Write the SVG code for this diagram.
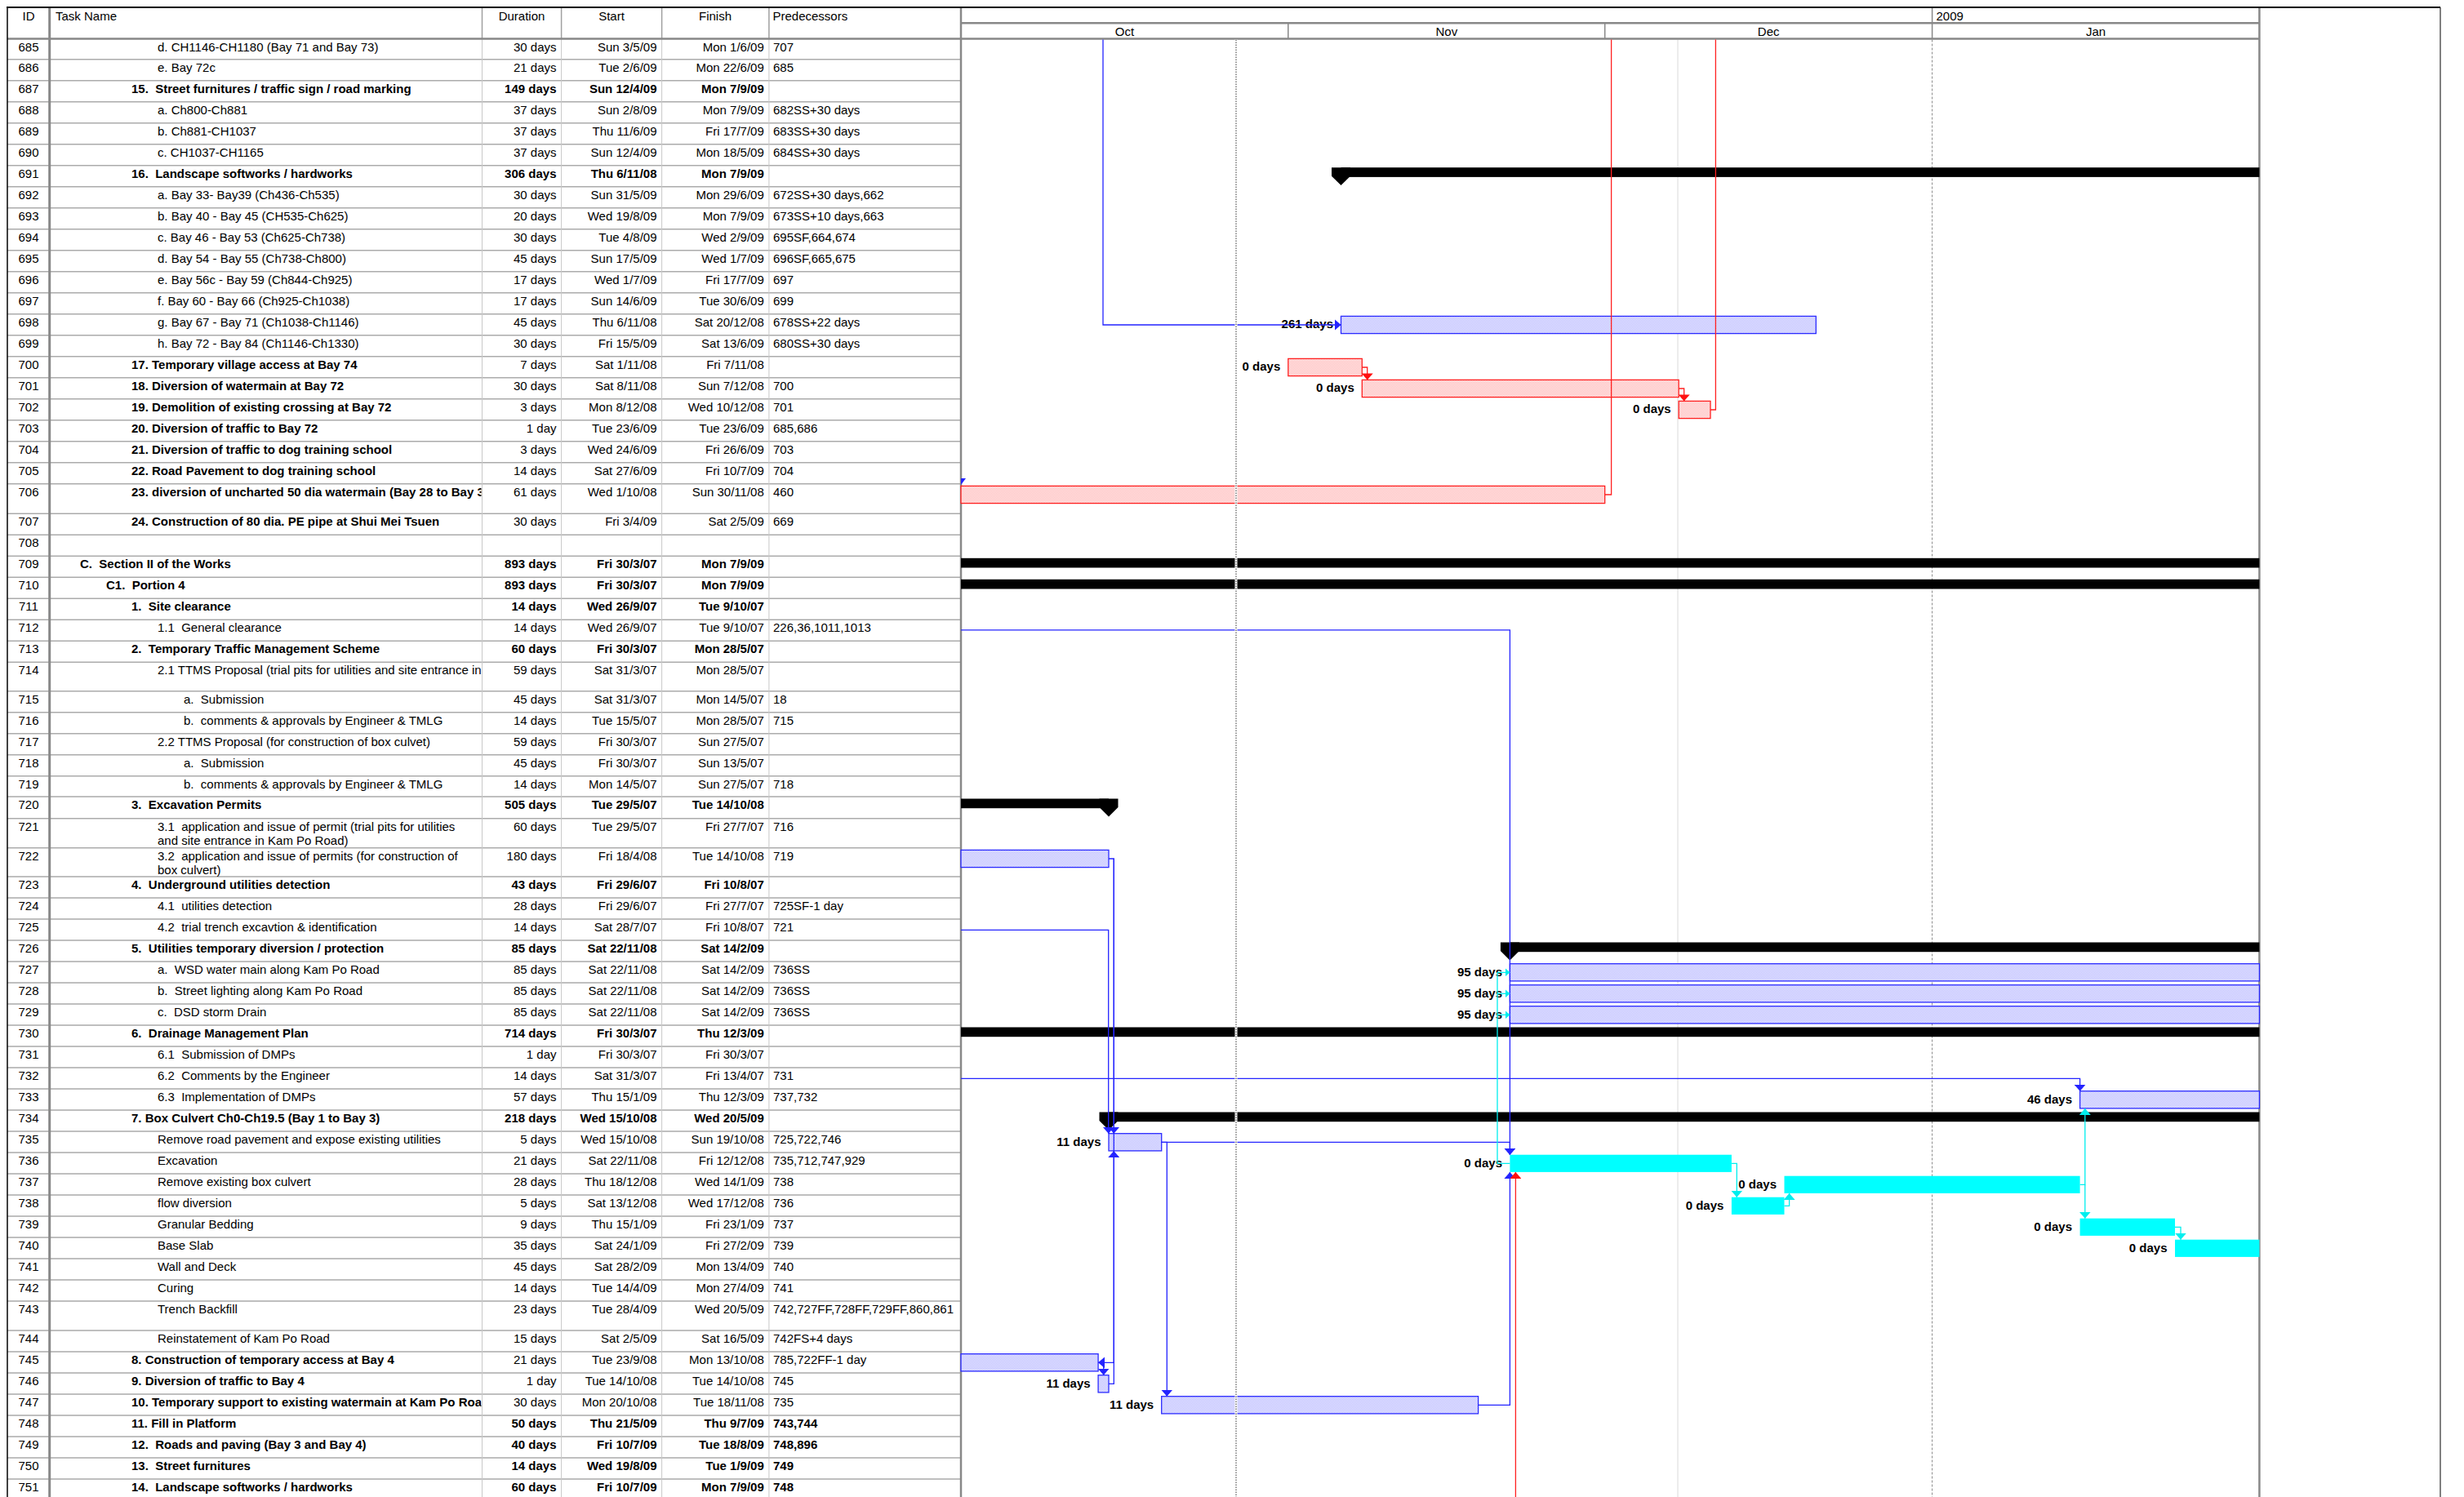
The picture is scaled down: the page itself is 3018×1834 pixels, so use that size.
<svg xmlns="http://www.w3.org/2000/svg" width="3018" height="1834" viewBox="0 0 3018 1834" xml:space="preserve">
<defs>
<style>
text{font-family:"Liberation Sans",Arial,Helvetica,sans-serif;font-size:15px;fill:#000;white-space:pre}
.b{font-weight:bold}
.c{text-anchor:middle}
.r{text-anchor:end}
.n{clip-path:url(#cn)}
.p{clip-path:url(#cp)}
.lbl{font-weight:bold;text-anchor:end}
.bb{fill:url(#pb);stroke:#2b2bff;stroke-width:1.3}
.rb{fill:url(#pr);stroke:#ff2020;stroke-width:1.3}
.cb{fill:#00ffff}
.sm{fill:#000}
.lb{fill:none;stroke:#2424ff;stroke-width:1.3}
.lr{fill:none;stroke:#ff2020;stroke-width:1.3}
.lc{fill:none;stroke:#00eeee;stroke-width:1.3}
</style>
<pattern id="pb" width="2" height="2" patternUnits="userSpaceOnUse"><rect width="2" height="2" fill="#f2f2ff"/><rect width="1" height="1" fill="#b4b4ff"/><rect x="1" y="1" width="1" height="1" fill="#b4b4ff"/></pattern>
<pattern id="pr" width="2" height="2" patternUnits="userSpaceOnUse"><rect width="2" height="2" fill="#fff2f2"/><rect width="1" height="1" fill="#ffb4b4"/><rect x="1" y="1" width="1" height="1" fill="#ffb4b4"/></pattern>
<clipPath id="cn" clipPathUnits="userSpaceOnUse"><rect x="61" y="-3000" width="528.5" height="6000"/></clipPath>
<clipPath id="cp" clipPathUnits="userSpaceOnUse"><rect x="942" y="-3000" width="234" height="6000"/></clipPath>
<marker id="ab" viewBox="0 0 8 14" refX="8" refY="7" markerWidth="8" markerHeight="14" markerUnits="userSpaceOnUse" orient="auto"><path d="M0,0L8,7L0,14z" fill="#2424ff"/></marker>
<marker id="ar" viewBox="0 0 8 14" refX="8" refY="7" markerWidth="8" markerHeight="14" markerUnits="userSpaceOnUse" orient="auto"><path d="M0,0L8,7L0,14z" fill="#ff1010"/></marker>
<marker id="ac" viewBox="0 0 8 14" refX="8" refY="7" markerWidth="8" markerHeight="14" markerUnits="userSpaceOnUse" orient="auto"><path d="M0,0L8,7L0,14z" fill="#00eeee"/></marker>
<marker id="acs" viewBox="0 0 8 14" refX="8" refY="7" markerWidth="6" markerHeight="10" markerUnits="userSpaceOnUse" orient="auto"><path d="M0,0L8,7L0,14z" fill="#00eeee"/></marker>
</defs>
<rect width="3018" height="1834" fill="#fff"/>

<g id="grid">
<path d="M9 72.7H1177M9 98.7H1177M9 124.7H1177M9 150.7H1177M9 176.7H1177M9 202.7H1177M9 228.7H1177M9 254.7H1177M9 280.7H1177M9 306.7H1177M9 332.7H1177M9 358.7H1177M9 384.7H1177M9 410.7H1177M9 436.7H1177M9 462.7H1177M9 488.7H1177M9 514.7H1177M9 540.7H1177M9 566.7H1177M9 592.7H1177M9 629.3H1177M9 655.3H1177M9 681.3H1177M9 707.3H1177M9 733.3H1177M9 759.3H1177M9 785.3H1177M9 811.3H1177M9 846.7H1177M9 872.7H1177M9 898.7H1177M9 924.7H1177M9 950.7H1177M9 976H1177M9 1002.7H1177M9 1038.7H1177M9 1074H1177M9 1100H1177M9 1126H1177M9 1152H1177M9 1178H1177M9 1204H1177M9 1230H1177M9 1256H1177M9 1282H1177M9 1308H1177M9 1334H1177M9 1360H1177M9 1386H1177M9 1412H1177M9 1438H1177M9 1464H1177M9 1490H1177M9 1516H1177M9 1542H1177M9 1568H1177M9 1594H1177M9 1630H1177M9 1656H1177M9 1682H1177M9 1708H1177M9 1734H1177M9 1760H1177M9 1786H1177M9 1812H1177" fill="none" stroke="#ababab" stroke-width="1.5"/>
<path d="M590.5 47.5V1834M687.6 47.5V1834M810.6 47.5V1834M941.9 47.5V1834" fill="none" stroke="#c8c8c8" stroke-width="1"/>
<path d="M590.5 9V47.5M687.6 9V47.5M810.6 9V47.5M941.9 9V47.5" fill="none" stroke="#a0a0a0" stroke-width="1.5"/>
<path d="M60.7 9V1834" stroke="#888" stroke-width="3"/>
<path d="M2055 48.5V1834" stroke="#dadada" stroke-width="1"/>
<path d="M2366.6 48.5V1834" stroke="#8a8a8a" stroke-width="1" stroke-dasharray="3 2"/>
<path d="M1177 28.3H2767.4M9 47.5H2767.4" stroke="#888" stroke-width="2.5"/>
<path d="M2366.6 9V28.3M1577.8 28.3V47.5M1965.7 28.3V47.5M2366.6 28.3V47.5" stroke="#888" stroke-width="1.5"/>
<path d="M1177 9V1834M2767.4 9V1834" stroke="#888" stroke-width="2.5"/>
<path d="M8 9H2989" stroke="#000" stroke-width="2"/>
<path d="M9 9V1834" stroke="#000" stroke-width="1.5"/>
<path d="M2989 9V1834" stroke="#000" stroke-width="1"/>
</g>

<g id="header">
<text class="c" x="35" y="24.5">ID</text>
<text x="68" y="24.5">Task Name</text>
<text class="c" x="639" y="24.5">Duration</text>
<text class="c" x="749" y="24.5">Start</text>
<text class="c" x="876" y="24.5">Finish</text>
<text x="946.5" y="24.5">Predecessors</text>
<text x="2371.5" y="25">2009</text>
<text class="c" x="1377.4" y="43.5">Oct</text>
<text class="c" x="1771.8" y="43.5">Nov</text>
<text class="c" x="2166.2" y="43.5">Dec</text>
<text class="c" x="2567" y="43.5">Jan</text>
</g>

<g id="rows">
<g id="r685" transform="translate(0,47.5)"><text class="c" x="35" y="15">685</text><text class="n" x="193" y="15">d. CH1146-CH1180 (Bay 71 and Bay 73)</text><text class="r" x="681.5" y="15">30 days</text><text class="r" x="804.5" y="15">Sun 3/5/09</text><text class="r" x="935.8" y="15">Mon 1/6/09</text><text class="p" x="947" y="15">707</text></g>
<g id="r686" transform="translate(0,72.7)"><text class="c" x="35" y="15">686</text><text class="n" x="193" y="15">e. Bay 72c</text><text class="r" x="681.5" y="15">21 days</text><text class="r" x="804.5" y="15">Tue 2/6/09</text><text class="r" x="935.8" y="15">Mon 22/6/09</text><text class="p" x="947" y="15">685</text></g>
<g id="r687" transform="translate(0,98.7)"><text class="c" x="35" y="15">687</text><text class="n b" x="161" y="15">15.  Street furnitures / traffic sign / road marking</text><text class="r b" x="681.5" y="15">149 days</text><text class="r b" x="804.5" y="15">Sun 12/4/09</text><text class="r b" x="935.8" y="15">Mon 7/9/09</text></g>
<g id="r688" transform="translate(0,124.7)"><text class="c" x="35" y="15">688</text><text class="n" x="193" y="15">a. Ch800-Ch881</text><text class="r" x="681.5" y="15">37 days</text><text class="r" x="804.5" y="15">Sun 2/8/09</text><text class="r" x="935.8" y="15">Mon 7/9/09</text><text class="p" x="947" y="15">682SS+30 days</text></g>
<g id="r689" transform="translate(0,150.7)"><text class="c" x="35" y="15">689</text><text class="n" x="193" y="15">b. Ch881-CH1037</text><text class="r" x="681.5" y="15">37 days</text><text class="r" x="804.5" y="15">Thu 11/6/09</text><text class="r" x="935.8" y="15">Fri 17/7/09</text><text class="p" x="947" y="15">683SS+30 days</text></g>
<g id="r690" transform="translate(0,176.7)"><text class="c" x="35" y="15">690</text><text class="n" x="193" y="15">c. CH1037-CH1165</text><text class="r" x="681.5" y="15">37 days</text><text class="r" x="804.5" y="15">Sun 12/4/09</text><text class="r" x="935.8" y="15">Mon 18/5/09</text><text class="p" x="947" y="15">684SS+30 days</text></g>
<g id="r691" transform="translate(0,202.7)"><text class="c" x="35" y="15">691</text><text class="n b" x="161" y="15">16.  Landscape softworks / hardworks</text><text class="r b" x="681.5" y="15">306 days</text><text class="r b" x="804.5" y="15">Thu 6/11/08</text><text class="r b" x="935.8" y="15">Mon 7/9/09</text></g>
<g id="r692" transform="translate(0,228.7)"><text class="c" x="35" y="15">692</text><text class="n" x="193" y="15">a. Bay 33- Bay39 (Ch436-Ch535)</text><text class="r" x="681.5" y="15">30 days</text><text class="r" x="804.5" y="15">Sun 31/5/09</text><text class="r" x="935.8" y="15">Mon 29/6/09</text><text class="p" x="947" y="15">672SS+30 days,662</text></g>
<g id="r693" transform="translate(0,254.7)"><text class="c" x="35" y="15">693</text><text class="n" x="193" y="15">b. Bay 40 - Bay 45 (CH535-Ch625)</text><text class="r" x="681.5" y="15">20 days</text><text class="r" x="804.5" y="15">Wed 19/8/09</text><text class="r" x="935.8" y="15">Mon 7/9/09</text><text class="p" x="947" y="15">673SS+10 days,663</text></g>
<g id="r694" transform="translate(0,280.7)"><text class="c" x="35" y="15">694</text><text class="n" x="193" y="15">c. Bay 46 - Bay 53 (Ch625-Ch738)</text><text class="r" x="681.5" y="15">30 days</text><text class="r" x="804.5" y="15">Tue 4/8/09</text><text class="r" x="935.8" y="15">Wed 2/9/09</text><text class="p" x="947" y="15">695SF,664,674</text></g>
<g id="r695" transform="translate(0,306.7)"><text class="c" x="35" y="15">695</text><text class="n" x="193" y="15">d. Bay 54 - Bay 55 (Ch738-Ch800)</text><text class="r" x="681.5" y="15">45 days</text><text class="r" x="804.5" y="15">Sun 17/5/09</text><text class="r" x="935.8" y="15">Wed 1/7/09</text><text class="p" x="947" y="15">696SF,665,675</text></g>
<g id="r696" transform="translate(0,332.7)"><text class="c" x="35" y="15">696</text><text class="n" x="193" y="15">e. Bay 56c - Bay 59 (Ch844-Ch925)</text><text class="r" x="681.5" y="15">17 days</text><text class="r" x="804.5" y="15">Wed 1/7/09</text><text class="r" x="935.8" y="15">Fri 17/7/09</text><text class="p" x="947" y="15">697</text></g>
<g id="r697" transform="translate(0,358.7)"><text class="c" x="35" y="15">697</text><text class="n" x="193" y="15">f. Bay 60 - Bay 66 (Ch925-Ch1038)</text><text class="r" x="681.5" y="15">17 days</text><text class="r" x="804.5" y="15">Sun 14/6/09</text><text class="r" x="935.8" y="15">Tue 30/6/09</text><text class="p" x="947" y="15">699</text></g>
<g id="r698" transform="translate(0,384.7)"><text class="c" x="35" y="15">698</text><text class="n" x="193" y="15">g. Bay 67 - Bay 71 (Ch1038-Ch1146)</text><text class="r" x="681.5" y="15">45 days</text><text class="r" x="804.5" y="15">Thu 6/11/08</text><text class="r" x="935.8" y="15">Sat 20/12/08</text><text class="p" x="947" y="15">678SS+22 days</text></g>
<g id="r699" transform="translate(0,410.7)"><text class="c" x="35" y="15">699</text><text class="n" x="193" y="15">h. Bay 72 - Bay 84 (Ch1146-Ch1330)</text><text class="r" x="681.5" y="15">30 days</text><text class="r" x="804.5" y="15">Fri 15/5/09</text><text class="r" x="935.8" y="15">Sat 13/6/09</text><text class="p" x="947" y="15">680SS+30 days</text></g>
<g id="r700" transform="translate(0,436.7)"><text class="c" x="35" y="15">700</text><text class="n b" x="161" y="15">17. Temporary village access at Bay 74</text><text class="r" x="681.5" y="15">7 days</text><text class="r" x="804.5" y="15">Sat 1/11/08</text><text class="r" x="935.8" y="15">Fri 7/11/08</text></g>
<g id="r701" transform="translate(0,462.7)"><text class="c" x="35" y="15">701</text><text class="n b" x="161" y="15">18. Diversion of watermain at Bay 72</text><text class="r" x="681.5" y="15">30 days</text><text class="r" x="804.5" y="15">Sat 8/11/08</text><text class="r" x="935.8" y="15">Sun 7/12/08</text><text class="p" x="947" y="15">700</text></g>
<g id="r702" transform="translate(0,488.7)"><text class="c" x="35" y="15">702</text><text class="n b" x="161" y="15">19. Demolition of existing crossing at Bay 72</text><text class="r" x="681.5" y="15">3 days</text><text class="r" x="804.5" y="15">Mon 8/12/08</text><text class="r" x="935.8" y="15">Wed 10/12/08</text><text class="p" x="947" y="15">701</text></g>
<g id="r703" transform="translate(0,514.7)"><text class="c" x="35" y="15">703</text><text class="n b" x="161" y="15">20. Diversion of traffic to Bay 72</text><text class="r" x="681.5" y="15">1 day</text><text class="r" x="804.5" y="15">Tue 23/6/09</text><text class="r" x="935.8" y="15">Tue 23/6/09</text><text class="p" x="947" y="15">685,686</text></g>
<g id="r704" transform="translate(0,540.7)"><text class="c" x="35" y="15">704</text><text class="n b" x="161" y="15">21. Diversion of traffic to dog training school</text><text class="r" x="681.5" y="15">3 days</text><text class="r" x="804.5" y="15">Wed 24/6/09</text><text class="r" x="935.8" y="15">Fri 26/6/09</text><text class="p" x="947" y="15">703</text></g>
<g id="r705" transform="translate(0,566.7)"><text class="c" x="35" y="15">705</text><text class="n b" x="161" y="15">22. Road Pavement to dog training school</text><text class="r" x="681.5" y="15">14 days</text><text class="r" x="804.5" y="15">Sat 27/6/09</text><text class="r" x="935.8" y="15">Fri 10/7/09</text><text class="p" x="947" y="15">704</text></g>
<g id="r706" transform="translate(0,592.7)"><text class="c" x="35" y="15">706</text><text class="n b" x="161" y="15">23. diversion of uncharted 50 dia watermain (Bay 28 to Bay 3</text><text class="r" x="681.5" y="15">61 days</text><text class="r" x="804.5" y="15">Wed 1/10/08</text><text class="r" x="935.8" y="15">Sun 30/11/08</text><text class="p" x="947" y="15">460</text></g>
<g id="r707" transform="translate(0,629.3)"><text class="c" x="35" y="15">707</text><text class="n b" x="161" y="15">24. Construction of 80 dia. PE pipe at Shui Mei Tsuen</text><text class="r" x="681.5" y="15">30 days</text><text class="r" x="804.5" y="15">Fri 3/4/09</text><text class="r" x="935.8" y="15">Sat 2/5/09</text><text class="p" x="947" y="15">669</text></g>
<g id="r708" transform="translate(0,655.3)"><text class="c" x="35" y="15">708</text></g>
<g id="r709" transform="translate(0,681.3)"><text class="c" x="35" y="15">709</text><text class="n b" x="98" y="15">C.  Section II of the Works</text><text class="r b" x="681.5" y="15">893 days</text><text class="r b" x="804.5" y="15">Fri 30/3/07</text><text class="r b" x="935.8" y="15">Mon 7/9/09</text></g>
<g id="r710" transform="translate(0,707.3)"><text class="c" x="35" y="15">710</text><text class="n b" x="130" y="15">C1.  Portion 4</text><text class="r b" x="681.5" y="15">893 days</text><text class="r b" x="804.5" y="15">Fri 30/3/07</text><text class="r b" x="935.8" y="15">Mon 7/9/09</text></g>
<g id="r711" transform="translate(0,733.3)"><text class="c" x="35" y="15">711</text><text class="n b" x="161" y="15">1.  Site clearance</text><text class="r b" x="681.5" y="15">14 days</text><text class="r b" x="804.5" y="15">Wed 26/9/07</text><text class="r b" x="935.8" y="15">Tue 9/10/07</text></g>
<g id="r712" transform="translate(0,759.3)"><text class="c" x="35" y="15">712</text><text class="n" x="193" y="15">1.1  General clearance</text><text class="r" x="681.5" y="15">14 days</text><text class="r" x="804.5" y="15">Wed 26/9/07</text><text class="r" x="935.8" y="15">Tue 9/10/07</text><text class="p" x="947" y="15">226,36,1011,1013</text></g>
<g id="r713" transform="translate(0,785.3)"><text class="c" x="35" y="15">713</text><text class="n b" x="161" y="15">2.  Temporary Traffic Management Scheme</text><text class="r b" x="681.5" y="15">60 days</text><text class="r b" x="804.5" y="15">Fri 30/3/07</text><text class="r b" x="935.8" y="15">Mon 28/5/07</text></g>
<g id="r714" transform="translate(0,811.3)"><text class="c" x="35" y="15">714</text><text class="n" x="193" y="15">2.1 TTMS Proposal (trial pits for utilities and site entrance in</text><text class="r" x="681.5" y="15">59 days</text><text class="r" x="804.5" y="15">Sat 31/3/07</text><text class="r" x="935.8" y="15">Mon 28/5/07</text></g>
<g id="r715" transform="translate(0,846.7)"><text class="c" x="35" y="15">715</text><text class="n" x="225" y="15">a.  Submission</text><text class="r" x="681.5" y="15">45 days</text><text class="r" x="804.5" y="15">Sat 31/3/07</text><text class="r" x="935.8" y="15">Mon 14/5/07</text><text class="p" x="947" y="15">18</text></g>
<g id="r716" transform="translate(0,872.7)"><text class="c" x="35" y="15">716</text><text class="n" x="225" y="15">b.  comments &amp; approvals by Engineer &amp; TMLG</text><text class="r" x="681.5" y="15">14 days</text><text class="r" x="804.5" y="15">Tue 15/5/07</text><text class="r" x="935.8" y="15">Mon 28/5/07</text><text class="p" x="947" y="15">715</text></g>
<g id="r717" transform="translate(0,898.7)"><text class="c" x="35" y="15">717</text><text class="n" x="193" y="15">2.2 TTMS Proposal (for construction of box culvet)</text><text class="r" x="681.5" y="15">59 days</text><text class="r" x="804.5" y="15">Fri 30/3/07</text><text class="r" x="935.8" y="15">Sun 27/5/07</text></g>
<g id="r718" transform="translate(0,924.7)"><text class="c" x="35" y="15">718</text><text class="n" x="225" y="15">a.  Submission</text><text class="r" x="681.5" y="15">45 days</text><text class="r" x="804.5" y="15">Fri 30/3/07</text><text class="r" x="935.8" y="15">Sun 13/5/07</text></g>
<g id="r719" transform="translate(0,950.7)"><text class="c" x="35" y="15">719</text><text class="n" x="225" y="15">b.  comments &amp; approvals by Engineer &amp; TMLG</text><text class="r" x="681.5" y="15">14 days</text><text class="r" x="804.5" y="15">Mon 14/5/07</text><text class="r" x="935.8" y="15">Sun 27/5/07</text><text class="p" x="947" y="15">718</text></g>
<g id="r720" transform="translate(0,976)"><text class="c" x="35" y="15">720</text><text class="n b" x="161" y="15">3.  Excavation Permits</text><text class="r b" x="681.5" y="15">505 days</text><text class="r b" x="804.5" y="15">Tue 29/5/07</text><text class="r b" x="935.8" y="15">Tue 14/10/08</text></g>
<g id="r721" transform="translate(0,1002.7)"><text class="c" x="35" y="15">721</text><text class="n" x="193" y="15">3.1  application and issue of permit (trial pits for utilities</text><text class="n" x="193" y="32">and site entrance in Kam Po Road)</text><text class="r" x="681.5" y="15">60 days</text><text class="r" x="804.5" y="15">Tue 29/5/07</text><text class="r" x="935.8" y="15">Fri 27/7/07</text><text class="p" x="947" y="15">716</text></g>
<g id="r722" transform="translate(0,1038.7)"><text class="c" x="35" y="15">722</text><text class="n" x="193" y="15">3.2  application and issue of permits (for construction of</text><text class="n" x="193" y="32">box culvert)</text><text class="r" x="681.5" y="15">180 days</text><text class="r" x="804.5" y="15">Fri 18/4/08</text><text class="r" x="935.8" y="15">Tue 14/10/08</text><text class="p" x="947" y="15">719</text></g>
<g id="r723" transform="translate(0,1074)"><text class="c" x="35" y="15">723</text><text class="n b" x="161" y="15">4.  Underground utilities detection</text><text class="r b" x="681.5" y="15">43 days</text><text class="r b" x="804.5" y="15">Fri 29/6/07</text><text class="r b" x="935.8" y="15">Fri 10/8/07</text></g>
<g id="r724" transform="translate(0,1100)"><text class="c" x="35" y="15">724</text><text class="n" x="193" y="15">4.1  utilities detection</text><text class="r" x="681.5" y="15">28 days</text><text class="r" x="804.5" y="15">Fri 29/6/07</text><text class="r" x="935.8" y="15">Fri 27/7/07</text><text class="p" x="947" y="15">725SF-1 day</text></g>
<g id="r725" transform="translate(0,1126)"><text class="c" x="35" y="15">725</text><text class="n" x="193" y="15">4.2  trial trench excavtion &amp; identification</text><text class="r" x="681.5" y="15">14 days</text><text class="r" x="804.5" y="15">Sat 28/7/07</text><text class="r" x="935.8" y="15">Fri 10/8/07</text><text class="p" x="947" y="15">721</text></g>
<g id="r726" transform="translate(0,1152)"><text class="c" x="35" y="15">726</text><text class="n b" x="161" y="15">5.  Utilities temporary diversion / protection</text><text class="r b" x="681.5" y="15">85 days</text><text class="r b" x="804.5" y="15">Sat 22/11/08</text><text class="r b" x="935.8" y="15">Sat 14/2/09</text></g>
<g id="r727" transform="translate(0,1178)"><text class="c" x="35" y="15">727</text><text class="n" x="193" y="15">a.  WSD water main along Kam Po Road</text><text class="r" x="681.5" y="15">85 days</text><text class="r" x="804.5" y="15">Sat 22/11/08</text><text class="r" x="935.8" y="15">Sat 14/2/09</text><text class="p" x="947" y="15">736SS</text></g>
<g id="r728" transform="translate(0,1204)"><text class="c" x="35" y="15">728</text><text class="n" x="193" y="15">b.  Street lighting along Kam Po Road</text><text class="r" x="681.5" y="15">85 days</text><text class="r" x="804.5" y="15">Sat 22/11/08</text><text class="r" x="935.8" y="15">Sat 14/2/09</text><text class="p" x="947" y="15">736SS</text></g>
<g id="r729" transform="translate(0,1230)"><text class="c" x="35" y="15">729</text><text class="n" x="193" y="15">c.  DSD storm Drain</text><text class="r" x="681.5" y="15">85 days</text><text class="r" x="804.5" y="15">Sat 22/11/08</text><text class="r" x="935.8" y="15">Sat 14/2/09</text><text class="p" x="947" y="15">736SS</text></g>
<g id="r730" transform="translate(0,1256)"><text class="c" x="35" y="15">730</text><text class="n b" x="161" y="15">6.  Drainage Management Plan</text><text class="r b" x="681.5" y="15">714 days</text><text class="r b" x="804.5" y="15">Fri 30/3/07</text><text class="r b" x="935.8" y="15">Thu 12/3/09</text></g>
<g id="r731" transform="translate(0,1282)"><text class="c" x="35" y="15">731</text><text class="n" x="193" y="15">6.1  Submission of DMPs</text><text class="r" x="681.5" y="15">1 day</text><text class="r" x="804.5" y="15">Fri 30/3/07</text><text class="r" x="935.8" y="15">Fri 30/3/07</text></g>
<g id="r732" transform="translate(0,1308)"><text class="c" x="35" y="15">732</text><text class="n" x="193" y="15">6.2  Comments by the Engineer</text><text class="r" x="681.5" y="15">14 days</text><text class="r" x="804.5" y="15">Sat 31/3/07</text><text class="r" x="935.8" y="15">Fri 13/4/07</text><text class="p" x="947" y="15">731</text></g>
<g id="r733" transform="translate(0,1334)"><text class="c" x="35" y="15">733</text><text class="n" x="193" y="15">6.3  Implementation of DMPs</text><text class="r" x="681.5" y="15">57 days</text><text class="r" x="804.5" y="15">Thu 15/1/09</text><text class="r" x="935.8" y="15">Thu 12/3/09</text><text class="p" x="947" y="15">737,732</text></g>
<g id="r734" transform="translate(0,1360)"><text class="c" x="35" y="15">734</text><text class="n b" x="161" y="15">7. Box Culvert Ch0-Ch19.5 (Bay 1 to Bay 3)</text><text class="r b" x="681.5" y="15">218 days</text><text class="r b" x="804.5" y="15">Wed 15/10/08</text><text class="r b" x="935.8" y="15">Wed 20/5/09</text></g>
<g id="r735" transform="translate(0,1386)"><text class="c" x="35" y="15">735</text><text class="n" x="193" y="15">Remove road pavement and expose existing utilities</text><text class="r" x="681.5" y="15">5 days</text><text class="r" x="804.5" y="15">Wed 15/10/08</text><text class="r" x="935.8" y="15">Sun 19/10/08</text><text class="p" x="947" y="15">725,722,746</text></g>
<g id="r736" transform="translate(0,1412)"><text class="c" x="35" y="15">736</text><text class="n" x="193" y="15">Excavation</text><text class="r" x="681.5" y="15">21 days</text><text class="r" x="804.5" y="15">Sat 22/11/08</text><text class="r" x="935.8" y="15">Fri 12/12/08</text><text class="p" x="947" y="15">735,712,747,929</text></g>
<g id="r737" transform="translate(0,1438)"><text class="c" x="35" y="15">737</text><text class="n" x="193" y="15">Remove existing box culvert</text><text class="r" x="681.5" y="15">28 days</text><text class="r" x="804.5" y="15">Thu 18/12/08</text><text class="r" x="935.8" y="15">Wed 14/1/09</text><text class="p" x="947" y="15">738</text></g>
<g id="r738" transform="translate(0,1464)"><text class="c" x="35" y="15">738</text><text class="n" x="193" y="15">flow diversion</text><text class="r" x="681.5" y="15">5 days</text><text class="r" x="804.5" y="15">Sat 13/12/08</text><text class="r" x="935.8" y="15">Wed 17/12/08</text><text class="p" x="947" y="15">736</text></g>
<g id="r739" transform="translate(0,1490)"><text class="c" x="35" y="15">739</text><text class="n" x="193" y="15">Granular Bedding</text><text class="r" x="681.5" y="15">9 days</text><text class="r" x="804.5" y="15">Thu 15/1/09</text><text class="r" x="935.8" y="15">Fri 23/1/09</text><text class="p" x="947" y="15">737</text></g>
<g id="r740" transform="translate(0,1516)"><text class="c" x="35" y="15">740</text><text class="n" x="193" y="15">Base Slab</text><text class="r" x="681.5" y="15">35 days</text><text class="r" x="804.5" y="15">Sat 24/1/09</text><text class="r" x="935.8" y="15">Fri 27/2/09</text><text class="p" x="947" y="15">739</text></g>
<g id="r741" transform="translate(0,1542)"><text class="c" x="35" y="15">741</text><text class="n" x="193" y="15">Wall and Deck</text><text class="r" x="681.5" y="15">45 days</text><text class="r" x="804.5" y="15">Sat 28/2/09</text><text class="r" x="935.8" y="15">Mon 13/4/09</text><text class="p" x="947" y="15">740</text></g>
<g id="r742" transform="translate(0,1568)"><text class="c" x="35" y="15">742</text><text class="n" x="193" y="15">Curing</text><text class="r" x="681.5" y="15">14 days</text><text class="r" x="804.5" y="15">Tue 14/4/09</text><text class="r" x="935.8" y="15">Mon 27/4/09</text><text class="p" x="947" y="15">741</text></g>
<g id="r743" transform="translate(0,1594)"><text class="c" x="35" y="15">743</text><text class="n" x="193" y="15">Trench Backfill</text><text class="r" x="681.5" y="15">23 days</text><text class="r" x="804.5" y="15">Tue 28/4/09</text><text class="r" x="935.8" y="15">Wed 20/5/09</text><text class="p" x="947" y="15">742,727FF,728FF,729FF,860,861</text></g>
<g id="r744" transform="translate(0,1630)"><text class="c" x="35" y="15">744</text><text class="n" x="193" y="15">Reinstatement of Kam Po Road</text><text class="r" x="681.5" y="15">15 days</text><text class="r" x="804.5" y="15">Sat 2/5/09</text><text class="r" x="935.8" y="15">Sat 16/5/09</text><text class="p" x="947" y="15">742FS+4 days</text></g>
<g id="r745" transform="translate(0,1656)"><text class="c" x="35" y="15">745</text><text class="n b" x="161" y="15">8. Construction of temporary access at Bay 4</text><text class="r" x="681.5" y="15">21 days</text><text class="r" x="804.5" y="15">Tue 23/9/08</text><text class="r" x="935.8" y="15">Mon 13/10/08</text><text class="p" x="947" y="15">785,722FF-1 day</text></g>
<g id="r746" transform="translate(0,1682)"><text class="c" x="35" y="15">746</text><text class="n b" x="161" y="15">9. Diversion of traffic to Bay 4</text><text class="r" x="681.5" y="15">1 day</text><text class="r" x="804.5" y="15">Tue 14/10/08</text><text class="r" x="935.8" y="15">Tue 14/10/08</text><text class="p" x="947" y="15">745</text></g>
<g id="r747" transform="translate(0,1708)"><text class="c" x="35" y="15">747</text><text class="n b" x="161" y="15">10. Temporary support to existing watermain at Kam Po Road</text><text class="r" x="681.5" y="15">30 days</text><text class="r" x="804.5" y="15">Mon 20/10/08</text><text class="r" x="935.8" y="15">Tue 18/11/08</text><text class="p" x="947" y="15">735</text></g>
<g id="r748" transform="translate(0,1734)"><text class="c" x="35" y="15">748</text><text class="n b" x="161" y="15">11. Fill in Platform</text><text class="r b" x="681.5" y="15">50 days</text><text class="r b" x="804.5" y="15">Thu 21/5/09</text><text class="r b" x="935.8" y="15">Thu 9/7/09</text><text class="p b" x="947" y="15">743,744</text></g>
<g id="r749" transform="translate(0,1760)"><text class="c" x="35" y="15">749</text><text class="n b" x="161" y="15">12.  Roads and paving (Bay 3 and Bay 4)</text><text class="r b" x="681.5" y="15">40 days</text><text class="r b" x="804.5" y="15">Fri 10/7/09</text><text class="r b" x="935.8" y="15">Tue 18/8/09</text><text class="p b" x="947" y="15">748,896</text></g>
<g id="r750" transform="translate(0,1786)"><text class="c" x="35" y="15">750</text><text class="n b" x="161" y="15">13.  Street furnitures</text><text class="r b" x="681.5" y="15">14 days</text><text class="r b" x="804.5" y="15">Wed 19/8/09</text><text class="r b" x="935.8" y="15">Tue 1/9/09</text><text class="p b" x="947" y="15">749</text></g>
<g id="r751" transform="translate(0,1812)"><text class="c" x="35" y="15">751</text><text class="n b" x="161" y="15">14.  Landscape softworks / hardworks</text><text class="r b" x="681.5" y="15">60 days</text><text class="r b" x="804.5" y="15">Fri 10/7/09</text><text class="r b" x="935.8" y="15">Mon 7/9/09</text><text class="p b" x="947" y="15">748</text></g>
</g>

<g id="bars">
<g id="s691"><rect class="sm" x="1642.5" y="205.2" width="1124.9" height="11.7"/><polygon class="sm" points="1631,205.2 1654,205.2 1654,215.7 1642.5,227 1631,215.7"/></g>
<g id="s709"><rect class="sm" x="1177" y="683.8" width="1590.4" height="11.7"/></g>
<g id="s710"><rect class="sm" x="1177" y="709.8" width="1590.4" height="11.7"/></g>
<g id="s720"><rect class="sm" x="1177" y="978.5" width="181" height="11.7"/><polygon class="sm" points="1346.5,978.5 1369.5,978.5 1369.5,989 1358,1000.5 1346.5,989"/></g>
<g id="s726"><rect class="sm" x="1849.4" y="1154.5" width="918" height="11.7"/><polygon class="sm" points="1837.9,1154.5 1860.9,1154.5 1860.9,1165 1849.4,1176.5 1837.9,1165"/></g>
<g id="s730"><rect class="sm" x="1177" y="1258.5" width="1590.4" height="11.7"/></g>
<g id="s734"><rect class="sm" x="1358" y="1362.5" width="1409.4" height="11.7"/><polygon class="sm" points="1346.5,1362.5 1369.5,1362.5 1369.5,1373 1358,1384.5 1346.5,1373"/></g>
<g id="b698"><rect class="bb" x="1642.5" y="387.4" width="581.8" height="21.2"/><text class="lbl" x="1633" y="402.2">261 days</text></g>
<g id="b700"><rect class="rb" x="1577.8" y="439.4" width="90.5" height="21.2"/><text class="lbl" x="1568.3" y="454.2">0 days</text></g>
<g id="b701"><rect class="rb" x="1668.3" y="465.4" width="387.9" height="21.2"/><text class="lbl" x="1658.8" y="480.2">0 days</text></g>
<g id="b702"><rect class="rb" x="2056.2" y="491.4" width="38.8" height="21.2"/><text class="lbl" x="2046.7" y="506.2">0 days</text></g>
<g id="b706"><rect class="rb" x="1177" y="595.4" width="788.7" height="21.2"/></g>
<g id="b722"><rect class="bb" x="1177" y="1041.4" width="181" height="21.2"/></g>
<g id="b727"><rect class="bb" x="1849.4" y="1180.7" width="918" height="21.2"/><text class="lbl" x="1840" y="1195.5">95 days</text></g>
<g id="b728"><rect class="bb" x="1849.4" y="1206.7" width="918" height="21.2"/><text class="lbl" x="1840" y="1221.5">95 days</text></g>
<g id="b729"><rect class="bb" x="1849.4" y="1232.7" width="918" height="21.2"/><text class="lbl" x="1840" y="1247.5">95 days</text></g>
<g id="b733"><rect class="bb" x="2547.6" y="1336.7" width="219.8" height="21.2"/><text class="lbl" x="2538" y="1351.5">46 days</text></g>
<g id="b735"><rect class="bb" x="1358" y="1388.7" width="64.7" height="21.2"/><text class="lbl" x="1348.5" y="1403.5">11 days</text></g>
<g id="b736"><rect class="cb" x="1849.4" y="1414.7" width="271.5" height="21.2"/><text class="lbl" x="1840" y="1429.5">0 days</text></g>
<g id="b737"><rect class="cb" x="2185.5" y="1440.7" width="362.1" height="21.2"/><text class="lbl" x="2176" y="1455.5">0 days</text></g>
<g id="b738"><rect class="cb" x="2120.9" y="1466.7" width="64.6" height="21.2"/><text class="lbl" x="2111.4" y="1481.5">0 days</text></g>
<g id="b739"><rect class="cb" x="2547.6" y="1492.7" width="116.4" height="21.2"/><text class="lbl" x="2538" y="1507.5">0 days</text></g>
<g id="b740"><rect class="cb" x="2664" y="1518.7" width="103.4" height="21.2"/><text class="lbl" x="2654.5" y="1533.5">0 days</text></g>
<g id="b745"><rect class="bb" x="1177" y="1658.7" width="168.1" height="21.2"/></g>
<g id="b746"><rect class="bb" x="1345.1" y="1684.7" width="12.9" height="21.2"/><text class="lbl" x="1335.6" y="1699.5">11 days</text></g>
<g id="b747"><rect class="bb" x="1422.7" y="1710.7" width="387.9" height="21.2"/><text class="lbl" x="1413.2" y="1725.5">11 days</text></g>
</g>

<g id="connectors">
<path class="lb" d="M1351 48.5V398H1642.5" marker-end="url(#ab)"/>
<path class="lb" d="M1177 771.8H1849.4V1414.7" marker-end="url(#ab)"/>
<path class="lb" d="M1177 1139.3H1357.7V1388.7" marker-end="url(#ab)"/>
<path class="lb" d="M1358 1052H1364.3V1388.7" marker-end="url(#ab)"/>
<path class="lb" d="M1364.3 1052V1669.3H1345.1" marker-end="url(#ab)"/>
<path class="lb" d="M1345.1 1669.3H1351.7V1684.7" marker-end="url(#ab)"/>
<path class="lb" d="M1358 1695.3H1364.3V1410" marker-end="url(#ab)"/>
<path class="lb" d="M1422.7 1399.3H1849.4V1414.7" marker-end="url(#ab)"/>
<path class="lb" d="M1422.7 1399.3H1429.3V1710.7" marker-end="url(#ab)"/>
<path class="lb" d="M1810.6 1721.3H1849.4V1436" marker-end="url(#ab)"/>
<path class="lb" d="M1177 1321.3H2547.6V1336.7" marker-end="url(#ab)"/>
<polygon points="1177,586 1183,586 1177,594" fill="#2424ff"/>
<path class="lr" d="M1668.3 450H1674.7V465.4" marker-end="url(#ar)"/>
<path class="lr" d="M2056.2 476H2062.7V491.4" marker-end="url(#ar)"/>
<path class="lr" d="M2095 502H2101.4V48.5"/>
<path class="lr" d="M1965.7 606H1973.6V48.5"/>
<path class="lr" d="M1856.4 1834V1436" marker-end="url(#ar)"/>
<path class="lc" d="M1849.4 1425.3H1834V1191.3H1849.4" marker-end="url(#acs)"/>
<path class="lc" d="M1834 1217.3H1849.4" marker-end="url(#acs)"/>
<path class="lc" d="M1834 1243.3H1849.4" marker-end="url(#acs)"/>
<path class="lc" d="M2120.9 1425.3H2127.3V1466.7" marker-end="url(#ac)"/>
<path class="lc" d="M2185.5 1477.3H2191.6V1461.9" marker-end="url(#ac)"/>
<path class="lc" d="M2547.6 1451.3H2553.8V1357.9" marker-end="url(#ac)"/>
<path class="lc" d="M2553.8 1451.3V1492.7" marker-end="url(#ac)"/>
<path class="lc" d="M2664 1503.3H2671V1518.7" marker-end="url(#ac)"/>
</g>

<g id="statusline">
<path d="M1514 48.5V1834" stroke="#fff" stroke-width="3"/>
<path d="M1514 48.5V1834" stroke="#9a9a9a" stroke-width="2" stroke-dasharray="1.5 1.5"/>
</g>
</svg>
